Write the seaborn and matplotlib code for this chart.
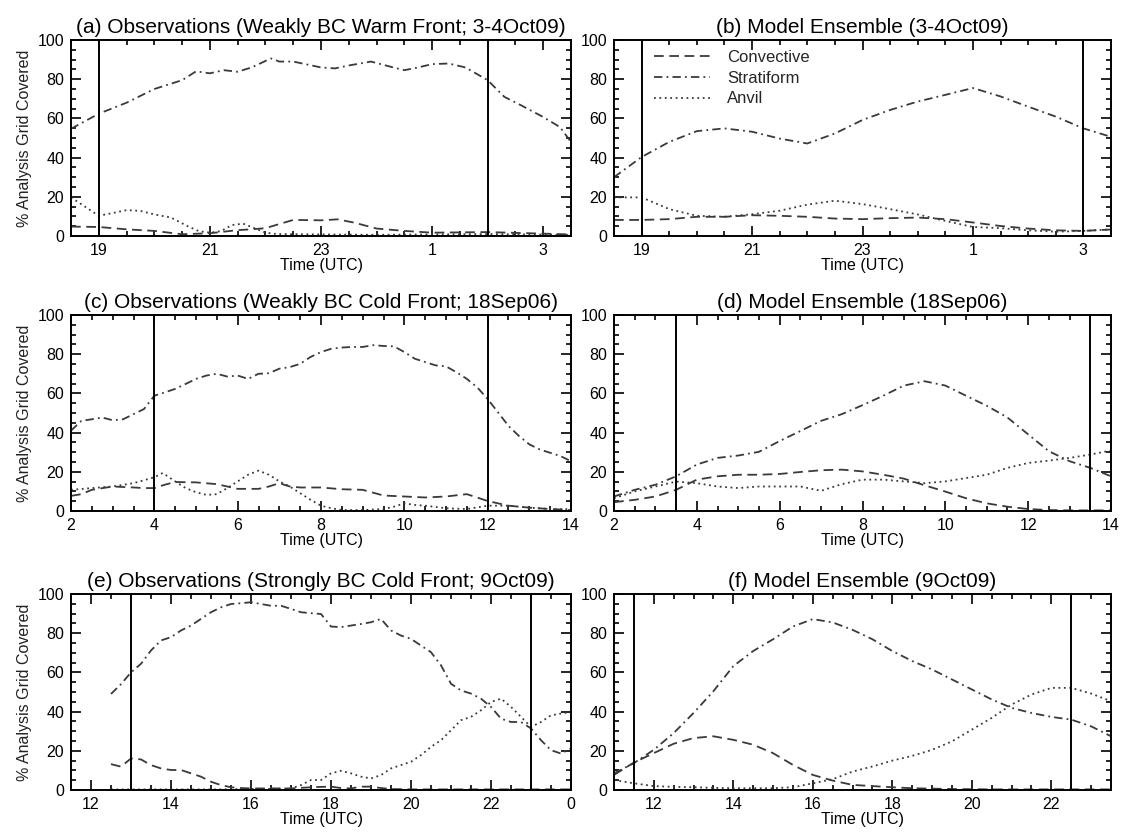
import matplotlib
matplotlib.use("Agg")
import matplotlib.pyplot as plt
from matplotlib.ticker import FixedLocator, MultipleLocator, FuncFormatter
import seaborn as sns
import pandas as pd

# ---------------- data ----------------
# (a) Observations, warm front 3-4 Oct 09
a_conv_t = [18.5, 19, 19.5, 20, 20.5, 21, 21.5, 21.75, 22, 22.5, 23, 23.3, 23.6, 24, 24.5, 25, 26, 27, 27.5]
a_conv = [4.8, 4.6, 3.4, 2.6, 0.9, 1.4, 3.0, 3.4, 4.0, 8.2, 8.0, 8.5, 6.8, 3.8, 2.6, 1.7, 2.0, 1.2, 0.8]
a_strat_t = [18.5, 19, 19.5, 20, 20.5, 20.75, 21, 21.25, 21.5, 21.75, 22.1, 22.25, 22.5, 23, 23.25, 23.5,
             23.9, 24.3, 24.5, 24.75, 25, 25.3, 25.6, 26, 26.3, 26.6, 27, 27.3, 27.5]
a_strat = [54.7, 62.4, 68, 75, 79.5, 84, 83, 84.6, 83.8, 86, 90.6, 89, 89, 86, 85.5, 87,
           89, 86, 84.6, 86, 87.7, 88, 86, 79.5, 71, 66.7, 60.7, 55.6, 48]
a_anv_t = [18.5, 19, 19.3, 19.5, 19.75, 20, 20.3, 20.6, 20.8, 21, 21.2, 21.4, 21.6, 21.8, 22, 22.2,
           23, 24, 25, 26, 27, 27.5]
a_anv = [19.7, 10.3, 12, 13.2, 12.8, 11, 9.4, 5, 2.5, 1.7, 2.5, 5.6, 6.3, 4, 1.7, 1,
         0.8, 0.6, 0.8, 1.0, 0.7, 0.5]

# (b) Model ensemble, 3-4 Oct 09
b_t = [18.5, 19, 19.5, 20, 20.5, 21, 21.5, 22, 22.5, 23, 23.5, 24, 24.5, 25, 25.5, 26, 26.5, 27, 27.5]
b_conv = [8.2, 8.2, 8.6, 9.8, 9.8, 10.6, 10.3, 9.8, 8.9, 8.6, 9.1, 9.4, 8.6, 6.9, 5.1, 3.8, 2.9, 2.6, 3.3]
b_strat = [30, 40.3, 48, 53.5, 54.9, 53.2, 49.7, 47.2, 52.3, 59.2, 64.3, 68.6, 72, 75.5, 71.2, 66, 60.9, 54.9, 50.6]
b_anv = [19.7, 19.7, 13.7, 10.3, 9.8, 11.1, 12.9, 16, 18, 16.3, 13.7, 11, 7.7, 4.6, 4, 2.9, 2.2, 2.6, 3.4]

# (c) Observations, weak cold front 18 Sep 06
c_t = [2, 2.25, 2.5, 2.75, 3, 3.25, 3.5, 3.75, 4, 4.25, 4.5, 4.75, 5, 5.25, 5.5, 5.75, 6, 6.25, 6.5, 6.75,
       7, 7.25, 7.5, 7.75, 8, 8.25, 8.5, 8.75, 9, 9.25, 9.5, 9.75, 10, 10.25, 10.5, 10.75, 11, 11.25,
       11.5, 11.75, 12, 12.25, 12.5, 12.75, 13, 13.25, 13.5, 13.75, 14]
c_strat = [41, 46, 46.8, 47.7, 46.3, 46.8, 49.4, 52, 58.8, 60.5, 62.3, 64.8, 67.4, 69.1, 70, 68.6, 69.1, 67.4,
           70, 70.3, 72.6, 73.4, 75.1, 78.6, 81.1, 82.8, 83.4, 83.7, 83.7, 84.6, 84.2, 84, 81.1, 77.7, 76,
           74.3, 73.8, 70.8, 67.4, 63.1, 57.1, 50.3, 43.4, 38.3, 34, 31.4, 29.7, 28, 25.4]
c_anv_t = [2, 2.5, 3, 3.5, 4, 4.2, 4.5, 4.75, 5, 5.25, 5.5, 5.75, 6, 6.25, 6.5, 6.75, 7, 7.25, 7.5, 7.75,
           8, 8.25, 8.5, 9, 9.5, 9.75, 10, 10.25, 10.5, 11, 11.5, 12, 12.5, 13, 13.5, 14]
c_anv = [10.8, 11.7, 12.5, 14.2, 17.2, 19.4, 15.1, 11.7, 9.6, 8.2, 8.6, 11.7, 15.1, 18.5, 20.6, 18.5, 15.1,
         12.5, 9.1, 5.7, 2.7, 1.4, 0.5, 0.5, 1, 2.2, 3.9, 3.1, 2.7, 1.4, 1, 2.7, 2.7, 1.7, 1, 0.9]
c_conv_t = [2, 2.25, 2.5, 3, 3.5, 3.75, 4, 4.25, 4.5, 5, 5.5, 5.75, 6, 6.5, 6.75, 7, 7.25, 7.5, 8, 8.5,
            9, 9.5, 10, 10.5, 11, 11.5, 12, 12.5, 13, 13.5, 14]
c_conv = [7.7, 8.6, 10.8, 12.5, 12, 11.7, 11.7, 13.4, 14.8, 14.6, 13.7, 12.5, 11.3, 11.3, 12.5, 14.2, 12.5,
          12, 12, 11.1, 10.8, 7.9, 7.4, 6.9, 7.4, 8.6, 5.1, 2.7, 1.7, 1, 0.5]

# (d) Model ensemble, 18 Sep 06
d_t = [2, 2.5, 3, 3.5, 4, 4.5, 5, 5.5, 6, 6.5, 7, 7.5, 8, 8.5, 9, 9.5, 10, 10.5, 11, 11.5, 12, 12.5,
       13, 13.5, 14]
d_strat = [7.4, 10.8, 13.4, 17.7, 23.7, 27.1, 28.3, 30.2, 35.7, 40.8, 46, 49.4, 54, 58.8, 64, 66.2, 64,
           58.8, 53.7, 47.7, 39.1, 30.5, 25.4, 22, 17.7]
d_anv = [6.5, 10, 12.5, 15, 14.2, 12.5, 11.7, 12.5, 12.5, 12.5, 10.3, 13.7, 16, 16, 15.1, 14.2, 15.1,
         16.8, 18.5, 22, 24.5, 25.7, 27.1, 28.8, 30.9]
d_conv = [4.5, 5.7, 7.4, 10.8, 16, 17.7, 18.5, 18.5, 18.9, 19.9, 20.8, 21.1, 20.2, 18.5, 16.5, 13.1, 9.9,
          6.5, 3.9, 2.2, 1, 0.5, 0.3, 0.3, 0.3]

# (e) Observations, strong cold front 9 Oct 09
e_t = [12.5, 12.75, 13, 13.25, 13.5, 13.75, 14, 14.25, 14.5, 14.75, 15, 15.25, 15.5, 15.75, 16, 16.25,
       16.5, 16.75, 17, 17.25, 17.5, 17.75, 18, 18.25, 18.5, 18.75, 19, 19.25, 19.5, 19.75, 20, 20.25,
       20.5, 20.75, 21, 21.25, 21.5, 21.75, 22, 22.25, 22.5, 22.75, 23, 23.25, 23.5, 23.75, 24]
e_strat = [49, 54, 60, 64.4, 71.2, 76.3, 78, 81.4, 83.9, 87.3, 90.7, 93.2, 94.9, 95.3, 95.8, 94.9,
           94, 94, 92.4, 90.7, 90.2, 89.8, 83.4, 83.1, 83.9, 84.7, 85.6, 87.3, 81.4, 78.8, 77.1, 73.7,
           70.3, 63.6, 54.2, 50.8, 49.2, 46.6, 42.4, 36.4, 34.7, 34.7, 31.4, 25.4, 20.3, 18.6, 21.2]
e_anv = [0.3, 0.3, 0.3, 0.3, 0.3, 0.3, 0.3, 0.3, 0.3, 0.3, 0.3, 0.3, 0.4, 0.5, 0.5, 0.5,
         0.6, 0.7, 0.8, 2.5, 5.1, 5.1, 8.5, 9.8, 8.5, 6.8, 5.9, 7.6, 11, 12.7, 14.4, 17.8,
         22, 25.4, 30.5, 35.6, 37.3, 40.7, 44.9, 46.6, 42.4, 37.3, 32.2, 34.7, 38.1, 39, 39.8]
e_conv = [13.2, 11.9, 16.1, 15.6, 12.7, 11, 10.2, 10.2, 8.5, 6.8, 4.2, 2.5, 1.4, 1.0, 0.8, 0.8,
          0.8, 0.8, 0.8, 1.1, 1.4, 1.6, 1.7, 1.0, 0.8, 1.7, 1.7, 1.0, 0.5, 0.4, 0.3, 0.3,
          0.3, 0.3, 0.3, 0.3, 0.3, 0.3, 0.3, 0.3, 0.3, 0.3, 0.3, 0.3, 0.3, 0.3, 0.3]

# (f) Model ensemble, 9 Oct 09
f_t = [11, 11.5, 12, 12.5, 13, 13.5, 14, 14.5, 15, 15.5, 16, 16.5, 17, 17.5, 18, 18.5, 19, 19.5, 20,
       20.5, 21, 21.5, 22, 22.5, 23, 23.5]
f_strat = [8.5, 13.7, 20.5, 29, 39.3, 50.4, 63.2, 70.9, 76.9, 83.4, 87.2, 85.5, 81.7, 76.9, 70.9, 65.8,
           61.5, 56.4, 51.3, 46.2, 41.9, 39.3, 37.3, 35.9, 32.5, 27.4]
f_anv = [5.1, 3.4, 2, 1.6, 1.4, 1.1, 0.9, 0.9, 0.9, 1.4, 3.4, 5.5, 9.4, 12, 15, 17.4, 20.5, 24.8, 30.8,
         36.8, 43.6, 48.7, 52.1, 52.1, 49.2, 45.3]
f_conv = [7.7, 14, 18.8, 23.6, 26.5, 27.4, 25.6, 23.1, 18.8, 12.8, 7.7, 4.8, 2.6, 2, 1.4, 0.9, 0.7, 0.5,
          0.4, 0.3, 0.3, 0.3, 0.3, 0.3, 0.3, 0.3]

titles = ["(a) Observations (Weakly BC Warm Front; 3-4Oct09)",
          "(b) Model Ensemble (3-4Oct09)",
          "(c) Observations (Weakly BC Cold Front; 18Sep06)",
          "(d) Model Ensemble (18Sep06)",
          "(e) Observations (Strongly BC Cold Front; 9Oct09)",
          "(f) Model Ensemble (9Oct09)"]
xlims = [(18.5, 27.5), (18.5, 27.5), (2, 14), (2, 14), (11.5, 24), (11, 23.5)]
xticks = [[19, 21, 23, 25, 27], [19, 21, 23, 25, 27], [2, 4, 6, 8, 10, 12, 14],
          [2, 4, 6, 8, 10, 12, 14], [12, 14, 16, 18, 20, 22, 24], [12, 14, 16, 18, 20, 22]]
vlines = [[19, 26], [19, 27], [4, 12], [3.5, 13.5], [13, 23], [11.5, 22.5]]
yticks = [0, 20, 40, 60, 80, 100]
type_names = ["Convective", "Stratiform", "Anvil"]

panels = [
    [(a_conv_t, a_conv), (a_strat_t, a_strat), (a_anv_t, a_anv)],
    [(b_t, b_conv), (b_t, b_strat), (b_t, b_anv)],
    [(c_conv_t, c_conv), (c_t, c_strat), (c_anv_t, c_anv)],
    [(d_t, d_conv), (d_t, d_strat), (d_t, d_anv)],
    [(e_t, e_conv), (e_t, e_strat), (e_t, e_anv)],
    [(f_t, f_conv), (f_t, f_strat), (f_t, f_anv)],
]

# ---------------- style ----------------
sns.set_theme(style="white")
plt.rcParams["font.family"] = ["Liberation Sans", "DejaVu Sans"]
plt.rcParams["lines.scale_dashes"] = False

line_color = "#3a3a3a"
styles = {"Convective": (0, (7, 4)),
          "Stratiform": (0, (6, 3, 1.3, 3)),
          "Anvil": (0, (1.3, 2.6))}

W, H = 1125, 833
fig = plt.figure(figsize=(W / 100, H / 100), dpi=100)

col_left = [71 / W, 614 / W]
col_width = [500 / W, 497 / W]
row_top = [40, 315, 594]
row_h = 196

for i in range(6):
    r, c = divmod(i, 2)
    rect = [col_left[c], 1 - (row_top[r] + row_h) / H, col_width[c], row_h / H]
    ax = fig.add_axes(rect)
    for (t, v), name in zip(panels[i], type_names):
        df = pd.DataFrame({"Time": t, "Pct": v})
        sns.lineplot(data=df, x="Time", y="Pct", ax=ax, color=line_color, lw=1.3,
                     linestyle=styles[name], estimator=None, label=name if i == 1 else None,
                     legend=False)
    for xv in vlines[i]:
        ax.axvline(xv, color="black", lw=1.4)
    ax.set_xlim(*xlims[i])
    ax.set_ylim(0, 100)
    ax.xaxis.set_major_locator(FixedLocator(xticks[i]))
    ax.xaxis.set_major_formatter(FuncFormatter(lambda v, p: f"{int(round(v)) % 24}"))
    ax.xaxis.set_minor_locator(MultipleLocator(0.5))
    ax.yaxis.set_major_locator(FixedLocator(yticks))
    ax.yaxis.set_minor_locator(MultipleLocator(5))
    ax.tick_params(which="both", direction="in", top=True, right=True, bottom=True, left=True,
                   width=1.2, color="black", labelsize=11.5, labelcolor="black")
    ax.tick_params(which="major", length=7, pad=5)
    ax.tick_params(which="minor", length=3.5)
    for sp in ax.spines.values():
        sp.set_visible(True)
        sp.set_color("black")
        sp.set_linewidth(1.4)
    ax.set_xlabel("Time (UTC)", fontsize=11.5, labelpad=0, color="black")
    if c == 0:
        ax.set_ylabel("% Analysis Grid Covered", fontsize=11.5, labelpad=4, color="#222222")
    else:
        ax.set_ylabel("")
    ax.set_title(titles[i], fontsize=15, pad=5, color="black")
    if i == 1:
        ax.legend(loc="upper left", bbox_to_anchor=(0.08, 0.95), frameon=False,
                  fontsize=12, handlelength=3.4, handletextpad=1.0, labelspacing=0.35,
                  borderpad=0, borderaxespad=0)

fig.savefig("out.png", dpi=100)
